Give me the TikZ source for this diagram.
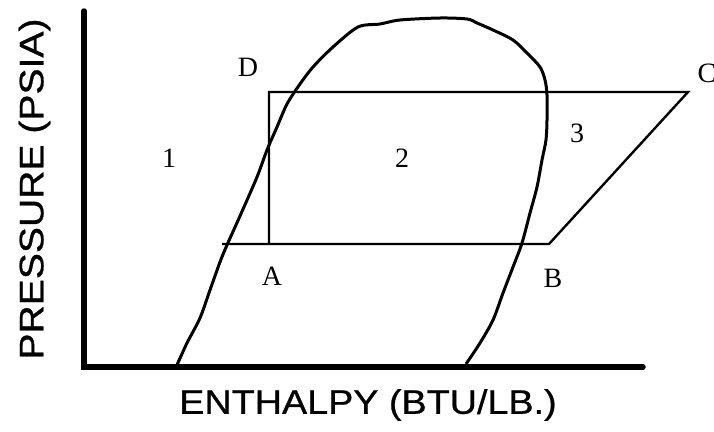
\documentclass[tikz,border=0pt]{standalone}
\usepackage{fontspec}
\setmainfont{Liberation Serif}
\newfontfamily\axisfont[FakeBold=0.7]{Liberation Sans}
\begin{document}
\begin{tikzpicture}[x=1pt,y=-1pt,
  axisline/.style={line width=5.5pt,line cap=round},
  cycleline/.style={line width=2.4pt,line join=miter},
  domeline/.style={line width=3pt,line join=round},
  ptlabel/.style={font=\fontsize{28}{28}\selectfont,inner sep=0pt},
  axlabel/.style={font=\axisfont\fontsize{34}{34}\selectfont,inner sep=0pt}]
\useasboundingbox (0,0) rectangle (714,431);
% axes
\coordinate (origin) at (84,367);
\coordinate (ytop) at (84,11);
\coordinate (xend) at (643,367);
\draw[axisline] (ytop) -- (origin) -- (xend);
% cycle
\coordinate (pA) at (269,244);
\coordinate (pAL) at (222,244);
\coordinate (pB) at (549,244);
\coordinate (pC) at (688,92);
\coordinate (pD) at (269,92);
\draw[cycleline] (pAL) -- (pB) -- (pC) -- (pD) -- (pA);
% saturation dome
\draw[domeline] plot[smooth,tension=0.5] coordinates {
  (177,365) (187,343) (200,318) (210,290) (220,262) (227,245) (240,216)
  (257,177) (267,150) (277,127) (287,104) (300,84) (313,67) (333,47)
  (358,27) (380,24) (400,20) (440,18) (467,19) (477,23) (493,30) (513,40)
  (527,53) (540,67) (545,80) (547,95) (547,120) (546,140) (542,160)
  (537,187) (530,213) (522,243) (513,267) (503,293) (493,320) (480,343)
  (466,364)};
% labels
\node[ptlabel] (lD) at (248,67) {D};
\node[ptlabel] (lC) at (707,73) {C};
\node[ptlabel] (lA) at (272,276) {A};
\node[ptlabel] (lB) at (553,278) {B};
\node[ptlabel] (l1) at (169,158) {1};
\node[ptlabel] (l2) at (402,158) {2};
\node[ptlabel] (l3) at (577,133) {3};
\node[axlabel,xscale=1.11] (xl) at (368,405) {ENTHALPY (BTU/LB.)};
\node[axlabel,rotate=90,xscale=1.15] (yl) at (34.5,189) {PRESSURE (PSIA)};
\end{tikzpicture}
\end{document}
